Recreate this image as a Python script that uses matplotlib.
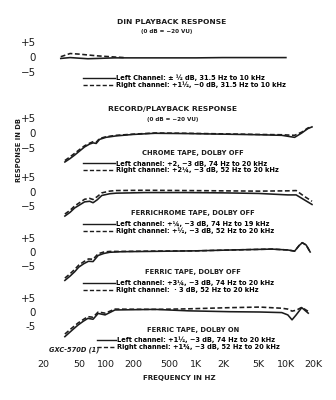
"""Teac GXC-570D: DIN playback and record/playback response, five panels."""

import matplotlib
matplotlib.use("Agg")
import matplotlib.pyplot as plt
from matplotlib.lines import Line2D

plt.rcParams['font.family'] = ['Liberation Sans Narrow', 'DejaVu Sans']

W, H = 336, 400
INK = "#1c1c1c"
PX_PER_DB = 2.9
DASH = (0, (3, 1.6))

# --- data (Hz, dB) ---
din_freq = [31.5, 40, 50, 63, 80, 100, 125, 200, 500, 1000, 2000, 5000, 10000]
din_left = [-0.5, -0.2, -0.4, -0.6, -0.5, -0.4, -0.3, -0.3, -0.3, -0.3, -0.2, -0.2, -0.2]
din_right_freq = [31.5, 40, 50, 63, 80, 100, 125, 160]
din_right = [0.1, 1.2, 1.0, 0.7, 0.4, 0.2, 0.0, -0.2]

chrome_freq = [35, 40, 45, 52, 58, 66, 72, 78, 85, 100, 130, 200, 350, 800,
               2000, 5000, 9000, 12500, 15000, 17500, 19500]
chrome_left = [-10, -8.8, -7.6, -6, -4.8, -3.8, -3.4, -3.6, -2.2, -1.5, -1.0,
               -0.5, -0.1, -0.2, -0.4, -0.6, -0.8, -1.5, 0.0, 1.5, 2.1]
chrome_right = [-9.5, -8.2, -7.0, -5.5, -4.4, -3.5, -3.0, -3.2, -1.9, -1.3, -0.8,
                -0.4, 0.0, -0.1, -0.3, -0.5, -0.6, -0.8, 0.3, 1.7, 2.2]

fchrome_freq = [35, 40, 45, 52, 58, 66, 72, 80, 90, 110, 130, 270, 800, 2000,
                5000, 10500, 13000, 16000, 19500]
fchrome_left = [-8.3, -7, -5.5, -4.3, -3.4, -3.2, -3.7, -2.7, -1.2, -0.6, -0.4,
                -0.2, -0.2, -0.3, -0.5, -1.0, -1.0, -2.7, -4.3]
fchrome_right = [-7.6, -6.3, -4.8, -3.5, -2.5, -2.2, -2.6, -1.6, -0.3, 0.3, 0.5,
                 0.6, 0.5, 0.4, 0.3, 0.4, 0.5, -1.5, -3.2]

foff_freq = [35, 40, 45, 50, 57, 64, 72, 82, 95, 110, 150, 300, 1000, 2500,
             7000, 10500, 12500, 14000, 15200, 16800, 18600]
foff_left = [-9.8, -8.3, -6.8, -5.2, -4.0, -3.2, -3.3, -1.2, -0.5, -0.1, 0.1,
             0.2, 0.4, 0.7, 1.0, 0.7, 0.3, 2.2, 3.2, 2.4, 0.0]
foff_right = [-9.0, -7.5, -6.0, -4.5, -3.3, -2.4, -2.5, -0.6, 0.0, 0.2, 0.2,
              0.3, 0.4, 0.7, 1.0, 0.7, 0.3, 2.2, 3.2, 2.4, 0.0]

fon_freq = [35, 42, 49, 56, 63, 72, 82, 98, 126, 350, 830, 2400, 5100, 9000,
            10500, 11700, 13000, 15000, 17700]
fon_left = [-8.5, -6.3, -4.5, -3.2, -2.2, -2.5, -0.5, -1.0, 0.7, 0.9, 0.4, 0.1,
            0.0, -0.2, -1.0, -2.7, -1.0, 1.5, -0.4]
fon_right = [-7.6, -5.5, -3.8, -2.6, -1.6, -1.8, 0.0, -0.4, 1.0, 0.9, 1.1, 1.5,
             1.7, 1.3, 1.0, 0.3, 0.6, 1.6, 0.2]

x_ticks = [20, 50, 100, 200, 500, 1000, 2000, 5000, 10000, 20000]
x_tick_labels = ["20", "50", "100", "200", "500", "1K", "2K", "5K", "10K", "20K"]
y_ticks = [5, 0, -5]

series = [
    (din_freq, din_left, din_right_freq, din_right),
    (chrome_freq, chrome_left, chrome_freq, chrome_right),
    (fchrome_freq, fchrome_left, fchrome_freq, fchrome_right),
    (foff_freq, foff_left, foff_freq, foff_right),
    (fon_freq, fon_left, fon_freq, fon_right),
]
subtitles = [None, "CHROME TAPE, DOLBY OFF", "FERRICHROME TAPE, DOLBY OFF",
             "FERRIC TAPE, DOLBY OFF", "FERRIC TAPE, DOLBY ON"]
left_texts = [
    "Left Channel: \u00b1 \u00bd dB, 31.5 Hz to 10 kHz",
    "Left channel: +2, \u22123 dB, 74 Hz to 20 kHz",
    "Left channel: +\u00bc, \u22123 dB, 74 Hz to 19 kHz",
    "Left channel: +3\u00bc, \u22123 dB, 74 Hz to 20 kHz",
    "Left channel: +1\u00bd, \u22123 dB, 74 Hz to 20 kHz",
]
right_texts = [
    "Right channel: +1\u00bd, \u22120 dB, 31.5 Hz to 10 kHz",
    "Right channel: +2\u00bc, \u22123 dB, 52 Hz to 20 kHz",
    "Right channel: +\u00bd, \u22123 dB, 52 Hz to 20 kHz",
    "Right channel:  \u00b7 3 dB, 52 Hz to 20 kHz",
    "Right channel: +1\u00be, \u22123 dB, 52 Hz to 20 kHz",
]

# layout in reference pixels: zero-dB row, subtitle row, legend centre row
zero_rows = [57, 133, 192, 252, 312]
sub_rows = [None, 153, 213, 272, 330]
legend_rows = [81.5, 167, 227.5, 286.5, 343.5]


def fx(x):
    return x / W


def fy(y):
    return 1 - y / H


fig = plt.figure(figsize=(W / 100, H / 100), dpi=100)
fig.patch.set_facecolor("white")

for i, (lf, lv, rf, rv) in enumerate(series):
    last = i == len(series) - 1
    y0 = zero_rows[i]
    lo, hi = (-16 if last else -11), 5.5
    bottom = fy(y0 - lo * PX_PER_DB)
    height = (hi - lo) * PX_PER_DB / H
    ax = fig.add_axes([fx(43), bottom, 270 / W, height])
    ax.set_facecolor("none")
    ax.set_xscale("log")
    ax.set_xlim(20, 20000)
    ax.set_ylim(lo, hi)
    for s in ax.spines.values():
        s.set_visible(False)

    ax.plot(rf, rv, color=INK, lw=1.15, ls=DASH)
    ax.plot(lf, lv, color=INK, lw=1.15)

    ax.set_yticks(y_ticks)
    ax.set_yticklabels(["+5", "0", "-5" if last else "\u22125"])
    ax.tick_params(axis="y", length=0, pad=5, labelsize=7.4, labelcolor=INK)
    ax.minorticks_off()
    if last:
        ax.set_xticks(x_ticks)
        ax.set_xticklabels(x_tick_labels)
        ax.tick_params(axis="x", length=0, pad=1.5, labelsize=6.8, labelcolor=INK)
    else:
        ax.set_xticks([])

    if subtitles[i]:
        fig.text(fx(193), fy(sub_rows[i]), subtitles[i], ha="center", va="center",
                 fontsize=4.9, fontweight="bold", color=INK)

    handles = [Line2D([], [], color=INK, lw=1.0),
               Line2D([], [], color=INK, lw=1.0, ls=DASH)]
    hx = 97 if last else 83
    hlen = 2.9 if last else 4.8
    ax.legend(handles, [left_texts[i], right_texts[i]], loc="center left",
              bbox_to_anchor=(fx(hx), fy(legend_rows[i])),
              bbox_transform=fig.transFigure,
              frameon=False, handlelength=hlen, handletextpad=0.15,
              borderpad=0, borderaxespad=0, labelspacing=0.1,
              prop={"weight": "bold", "size": 4.8})

fig.text(fx(172), fy(22), "DIN PLAYBACK RESPONSE", ha="center", va="center",
         fontsize=5.4, fontweight="bold", color=INK)
fig.text(fx(167), fy(31), "(0 dB = \u221220 VU)", ha="center", va="center",
         fontsize=4.1, fontweight="bold", color=INK)
fig.text(fx(172), fy(109), "RECORD/PLAYBACK RESPONSE", ha="center", va="center",
         fontsize=5.4, fontweight="bold", color=INK)
fig.text(fx(173), fy(119), "(0 dB = \u221220 VU)", ha="center", va="center",
         fontsize=4.1, fontweight="bold", color=INK)
fig.text(fx(19), fy(150), "RESPONSE IN DB", ha="center", va="center",
         rotation=90, fontsize=4.9, fontweight="bold", color=INK)
fig.text(fx(179), fy(378), "FREQUENCY IN HZ", ha="center", va="center",
         fontsize=5.1, fontweight="bold", color=INK)
fig.text(fx(74), fy(350), "GXC-570D (1)", ha="center", va="center",
         fontsize=4.8, fontweight="bold", style="italic", color=INK)

fig.savefig("out.png", dpi=100, facecolor="white")
